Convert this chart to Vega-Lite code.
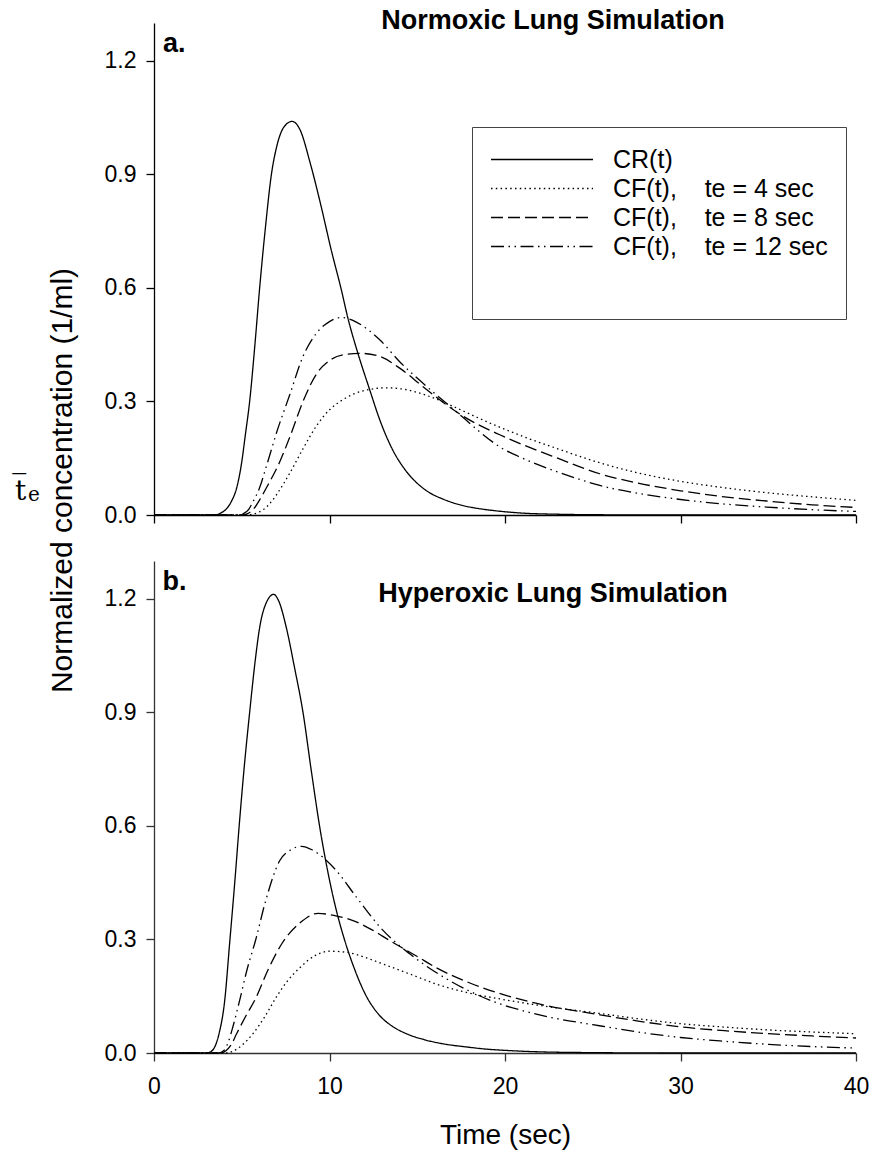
{
  "$schema": "https://vega.github.io/schema/vega-lite/v6.json",
  "background": "white",
  "padding": {"left": 15, "top": 7, "right": 0, "bottom": 0},
  "bounds": "flush",
  "spacing": 46,
  "config": {
    "view": {"stroke": null},
    "font": "Liberation Sans",
    "axis": {
      "grid": false,
      "domainColor": "black", "domainWidth": 1.3,
      "tickColor": "black", "tickWidth": 1.3, "tickSize": 8,
      "labelFont": "Liberation Sans", "labelFontSize": 23, "labelColor": "black",
      "labelFlush": false, "labelOverlap": false,
      "titleFont": "Liberation Sans", "titleColor": "black", "titleFontWeight": "normal"
    }
  },
  "resolve": {"scale": {"strokeDash": "shared"}, "legend": {"strokeDash": "shared"}},
  "datasets": {
    "curves": [
      {"panel":"a","series":"CR","time":0,"conc":0},
      {"panel":"a","series":"CR","time":3.5,"conc":0},
      {"panel":"a","series":"CR","time":3.8,"conc":0.005},
      {"panel":"a","series":"CR","time":4.1,"conc":0.015},
      {"panel":"a","series":"CR","time":4.4,"conc":0.035},
      {"panel":"a","series":"CR","time":4.73,"conc":0.075},
      {"panel":"a","series":"CR","time":5.0,"conc":0.14},
      {"panel":"a","series":"CR","time":5.2,"conc":0.21},
      {"panel":"a","series":"CR","time":5.45,"conc":0.30},
      {"panel":"a","series":"CR","time":5.75,"conc":0.45},
      {"panel":"a","series":"CR","time":6.02,"conc":0.60},
      {"panel":"a","series":"CR","time":6.35,"conc":0.76},
      {"panel":"a","series":"CR","time":6.69,"conc":0.90},
      {"panel":"a","series":"CR","time":7.0,"conc":0.975},
      {"panel":"a","series":"CR","time":7.4,"conc":1.025},
      {"panel":"a","series":"CR","time":7.87,"conc":1.04},
      {"panel":"a","series":"CR","time":8.3,"conc":1.02},
      {"panel":"a","series":"CR","time":8.9,"conc":0.93},
      {"panel":"a","series":"CR","time":9.5,"conc":0.82},
      {"panel":"a","series":"CR","time":10.1,"conc":0.70},
      {"panel":"a","series":"CR","time":10.68,"conc":0.594},
      {"panel":"a","series":"CR","time":11.05,"conc":0.52},
      {"panel":"a","series":"CR","time":11.62,"conc":0.427},
      {"panel":"a","series":"CR","time":12.29,"conc":0.331},
      {"panel":"a","series":"CR","time":12.86,"conc":0.252},
      {"panel":"a","series":"CR","time":13.6,"conc":0.172},
      {"panel":"a","series":"CR","time":14.3,"conc":0.12},
      {"panel":"a","series":"CR","time":14.95,"conc":0.086},
      {"panel":"a","series":"CR","time":15.7,"conc":0.059},
      {"panel":"a","series":"CR","time":16.47,"conc":0.042},
      {"panel":"a","series":"CR","time":17.5,"conc":0.026},
      {"panel":"a","series":"CR","time":18.5,"conc":0.017},
      {"panel":"a","series":"CR","time":19.5,"conc":0.011},
      {"panel":"a","series":"CR","time":21,"conc":0.005},
      {"panel":"a","series":"CR","time":23,"conc":0.002},
      {"panel":"a","series":"CR","time":26,"conc":0.0005},
      {"panel":"a","series":"CR","time":30,"conc":0},
      {"panel":"a","series":"CR","time":40,"conc":0},

      {"panel":"a","series":"te4","time":0,"conc":0},
      {"panel":"a","series":"te4","time":5.3,"conc":0},
      {"panel":"a","series":"te4","time":5.6,"conc":0.002},
      {"panel":"a","series":"te4","time":6.0,"conc":0.008},
      {"panel":"a","series":"te4","time":6.5,"conc":0.025},
      {"panel":"a","series":"te4","time":7.0,"conc":0.055},
      {"panel":"a","series":"te4","time":7.73,"conc":0.11},
      {"panel":"a","series":"te4","time":8.49,"conc":0.175},
      {"panel":"a","series":"te4","time":9.25,"conc":0.235},
      {"panel":"a","series":"te4","time":10.0,"conc":0.278},
      {"panel":"a","series":"te4","time":10.77,"conc":0.305},
      {"panel":"a","series":"te4","time":11.91,"conc":0.328},
      {"panel":"a","series":"te4","time":13.24,"conc":0.336},
      {"panel":"a","series":"te4","time":14.38,"conc":0.331},
      {"panel":"a","series":"te4","time":15.71,"conc":0.313},
      {"panel":"a","series":"te4","time":17.23,"conc":0.283},
      {"panel":"a","series":"te4","time":18.5,"conc":0.256},
      {"panel":"a","series":"te4","time":19.7,"conc":0.232},
      {"panel":"a","series":"te4","time":21,"conc":0.208},
      {"panel":"a","series":"te4","time":23,"conc":0.175},
      {"panel":"a","series":"te4","time":25.4,"conc":0.138},
      {"panel":"a","series":"te4","time":27.5,"conc":0.112},
      {"panel":"a","series":"te4","time":30,"conc":0.089},
      {"panel":"a","series":"te4","time":32.5,"conc":0.072},
      {"panel":"a","series":"te4","time":34.9,"conc":0.059},
      {"panel":"a","series":"te4","time":37.5,"conc":0.048},
      {"panel":"a","series":"te4","time":40,"conc":0.0386},

      {"panel":"a","series":"te8","time":0,"conc":0},
      {"panel":"a","series":"te8","time":5.0,"conc":0},
      {"panel":"a","series":"te8","time":5.3,"conc":0.003},
      {"panel":"a","series":"te8","time":5.6,"conc":0.012},
      {"panel":"a","series":"te8","time":6.02,"conc":0.04},
      {"panel":"a","series":"te8","time":6.5,"conc":0.08},
      {"panel":"a","series":"te8","time":7.16,"conc":0.14},
      {"panel":"a","series":"te8","time":7.73,"conc":0.205},
      {"panel":"a","series":"te8","time":8.49,"conc":0.30},
      {"panel":"a","series":"te8","time":9.25,"conc":0.372},
      {"panel":"a","series":"te8","time":10.0,"conc":0.408},
      {"panel":"a","series":"te8","time":10.9,"conc":0.424},
      {"panel":"a","series":"te8","time":11.82,"conc":0.427},
      {"panel":"a","series":"te8","time":12.86,"conc":0.419},
      {"panel":"a","series":"te8","time":14.0,"conc":0.388},
      {"panel":"a","series":"te8","time":15.33,"conc":0.339},
      {"panel":"a","series":"te8","time":16.66,"conc":0.291},
      {"panel":"a","series":"te8","time":17.8,"conc":0.256},
      {"panel":"a","series":"te8","time":19.7,"conc":0.212},
      {"panel":"a","series":"te8","time":21,"conc":0.186},
      {"panel":"a","series":"te8","time":23,"conc":0.150},
      {"panel":"a","series":"te8","time":25.4,"conc":0.109},
      {"panel":"a","series":"te8","time":27.5,"conc":0.085},
      {"panel":"a","series":"te8","time":30,"conc":0.064},
      {"panel":"a","series":"te8","time":32.5,"conc":0.048},
      {"panel":"a","series":"te8","time":34.9,"conc":0.037},
      {"panel":"a","series":"te8","time":37.5,"conc":0.027},
      {"panel":"a","series":"te8","time":40,"conc":0.020},

      {"panel":"a","series":"te12","time":0,"conc":0},
      {"panel":"a","series":"te12","time":4.8,"conc":0},
      {"panel":"a","series":"te12","time":5.07,"conc":0.003},
      {"panel":"a","series":"te12","time":5.4,"conc":0.015},
      {"panel":"a","series":"te12","time":5.64,"conc":0.035},
      {"panel":"a","series":"te12","time":6.0,"conc":0.07},
      {"panel":"a","series":"te12","time":6.4,"conc":0.128},
      {"panel":"a","series":"te12","time":7.0,"conc":0.22},
      {"panel":"a","series":"te12","time":7.73,"conc":0.317},
      {"panel":"a","series":"te12","time":8.49,"conc":0.419},
      {"panel":"a","series":"te12","time":9.25,"conc":0.48},
      {"panel":"a","series":"te12","time":10.0,"conc":0.511},
      {"panel":"a","series":"te12","time":10.68,"conc":0.522},
      {"panel":"a","series":"te12","time":11.3,"conc":0.515},
      {"panel":"a","series":"te12","time":11.82,"conc":0.502},
      {"panel":"a","series":"te12","time":12.86,"conc":0.463},
      {"panel":"a","series":"te12","time":14.0,"conc":0.405},
      {"panel":"a","series":"te12","time":15.33,"conc":0.348},
      {"panel":"a","series":"te12","time":16.66,"conc":0.295},
      {"panel":"a","series":"te12","time":17.6,"conc":0.258},
      {"panel":"a","series":"te12","time":18.5,"conc":0.222},
      {"panel":"a","series":"te12","time":19.7,"conc":0.180},
      {"panel":"a","series":"te12","time":21,"conc":0.150},
      {"panel":"a","series":"te12","time":22.5,"conc":0.122},
      {"panel":"a","series":"te12","time":24,"conc":0.098},
      {"panel":"a","series":"te12","time":25.4,"conc":0.078},
      {"panel":"a","series":"te12","time":27.5,"conc":0.058},
      {"panel":"a","series":"te12","time":30,"conc":0.041},
      {"panel":"a","series":"te12","time":32.5,"conc":0.029},
      {"panel":"a","series":"te12","time":34.9,"conc":0.021},
      {"panel":"a","series":"te12","time":37.5,"conc":0.014},
      {"panel":"a","series":"te12","time":40,"conc":0.0095},

      {"panel":"b","series":"CR","time":0,"conc":0},
      {"panel":"b","series":"CR","time":3.0,"conc":0},
      {"panel":"b","series":"CR","time":3.25,"conc":0.004},
      {"panel":"b","series":"CR","time":3.46,"conc":0.016},
      {"panel":"b","series":"CR","time":3.7,"conc":0.05},
      {"panel":"b","series":"CR","time":4.03,"conc":0.139},
      {"panel":"b","series":"CR","time":4.31,"conc":0.29},
      {"panel":"b","series":"CR","time":4.6,"conc":0.45},
      {"panel":"b","series":"CR","time":4.85,"conc":0.598},
      {"panel":"b","series":"CR","time":5.15,"conc":0.76},
      {"panel":"b","series":"CR","time":5.45,"conc":0.90},
      {"panel":"b","series":"CR","time":5.75,"conc":1.03},
      {"panel":"b","series":"CR","time":6.02,"conc":1.124},
      {"panel":"b","series":"CR","time":6.4,"conc":1.19},
      {"panel":"b","series":"CR","time":6.82,"conc":1.212},
      {"panel":"b","series":"CR","time":7.1,"conc":1.195},
      {"panel":"b","series":"CR","time":7.54,"conc":1.124},
      {"panel":"b","series":"CR","time":8.0,"conc":1.02},
      {"panel":"b","series":"CR","time":8.49,"conc":0.90},
      {"panel":"b","series":"CR","time":8.95,"conc":0.75},
      {"panel":"b","series":"CR","time":9.44,"conc":0.598},
      {"panel":"b","series":"CR","time":9.9,"conc":0.48},
      {"panel":"b","series":"CR","time":10.4,"conc":0.375},
      {"panel":"b","series":"CR","time":10.85,"conc":0.30},
      {"panel":"b","series":"CR","time":11.4,"conc":0.225},
      {"panel":"b","series":"CR","time":12.1,"conc":0.15},
      {"panel":"b","series":"CR","time":12.8,"conc":0.102},
      {"panel":"b","series":"CR","time":13.6,"conc":0.07},
      {"panel":"b","series":"CR","time":14.38,"conc":0.051},
      {"panel":"b","series":"CR","time":15.5,"conc":0.034},
      {"panel":"b","series":"CR","time":16.5,"conc":0.024},
      {"panel":"b","series":"CR","time":17.8,"conc":0.016},
      {"panel":"b","series":"CR","time":19,"conc":0.010},
      {"panel":"b","series":"CR","time":20,"conc":0.007},
      {"panel":"b","series":"CR","time":22,"conc":0.003},
      {"panel":"b","series":"CR","time":25,"conc":0.001},
      {"panel":"b","series":"CR","time":30,"conc":0},
      {"panel":"b","series":"CR","time":40,"conc":0},

      {"panel":"b","series":"te4","time":0,"conc":0},
      {"panel":"b","series":"te4","time":4.2,"conc":0},
      {"panel":"b","series":"te4","time":4.5,"conc":0.005},
      {"panel":"b","series":"te4","time":5.0,"conc":0.02},
      {"panel":"b","series":"te4","time":5.64,"conc":0.051},
      {"panel":"b","series":"te4","time":6.3,"conc":0.095},
      {"panel":"b","series":"te4","time":7.0,"conc":0.15},
      {"panel":"b","series":"te4","time":7.6,"conc":0.19},
      {"panel":"b","series":"te4","time":8.3,"conc":0.225},
      {"panel":"b","series":"te4","time":9.2,"conc":0.258},
      {"panel":"b","series":"te4","time":10.0,"conc":0.269},
      {"panel":"b","series":"te4","time":11.0,"conc":0.266},
      {"panel":"b","series":"te4","time":12.0,"conc":0.253},
      {"panel":"b","series":"te4","time":13.0,"conc":0.236},
      {"panel":"b","series":"te4","time":14.5,"conc":0.21},
      {"panel":"b","series":"te4","time":16.1,"conc":0.182},
      {"panel":"b","series":"te4","time":18.0,"conc":0.158},
      {"panel":"b","series":"te4","time":19.7,"conc":0.143},
      {"panel":"b","series":"te4","time":22.5,"conc":0.122},
      {"panel":"b","series":"te4","time":25,"conc":0.107},
      {"panel":"b","series":"te4","time":27.5,"conc":0.091},
      {"panel":"b","series":"te4","time":30,"conc":0.0775},
      {"panel":"b","series":"te4","time":32.5,"conc":0.0685},
      {"panel":"b","series":"te4","time":35,"conc":0.061},
      {"panel":"b","series":"te4","time":37.5,"conc":0.0555},
      {"panel":"b","series":"te4","time":40,"conc":0.051},

      {"panel":"b","series":"te8","time":0,"conc":0},
      {"panel":"b","series":"te8","time":3.8,"conc":0},
      {"panel":"b","series":"te8","time":4.1,"conc":0.006},
      {"panel":"b","series":"te8","time":4.4,"conc":0.022},
      {"panel":"b","series":"te8","time":4.7,"conc":0.05},
      {"panel":"b","series":"te8","time":5.2,"conc":0.095},
      {"panel":"b","series":"te8","time":5.8,"conc":0.145},
      {"panel":"b","series":"te8","time":6.5,"conc":0.22},
      {"panel":"b","series":"te8","time":7.3,"conc":0.29},
      {"panel":"b","series":"te8","time":8.3,"conc":0.343},
      {"panel":"b","series":"te8","time":9.35,"conc":0.369},
      {"panel":"b","series":"te8","time":10.3,"conc":0.363},
      {"panel":"b","series":"te8","time":11.34,"conc":0.35},
      {"panel":"b","series":"te8","time":12.4,"conc":0.326},
      {"panel":"b","series":"te8","time":13.4,"conc":0.298},
      {"panel":"b","series":"te8","time":15,"conc":0.255},
      {"panel":"b","series":"te8","time":16.1,"conc":0.225},
      {"panel":"b","series":"te8","time":18,"conc":0.185},
      {"panel":"b","series":"te8","time":20,"conc":0.153},
      {"panel":"b","series":"te8","time":22.5,"conc":0.124},
      {"panel":"b","series":"te8","time":25,"conc":0.104},
      {"panel":"b","series":"te8","time":27.5,"conc":0.085},
      {"panel":"b","series":"te8","time":30,"conc":0.069},
      {"panel":"b","series":"te8","time":32.5,"conc":0.059},
      {"panel":"b","series":"te8","time":35,"conc":0.051},
      {"panel":"b","series":"te8","time":37.5,"conc":0.045},
      {"panel":"b","series":"te8","time":40,"conc":0.0396},

      {"panel":"b","series":"te12","time":0,"conc":0},
      {"panel":"b","series":"te12","time":3.7,"conc":0},
      {"panel":"b","series":"te12","time":3.95,"conc":0.005},
      {"panel":"b","series":"te12","time":4.2,"conc":0.025},
      {"panel":"b","series":"te12","time":4.5,"conc":0.07},
      {"panel":"b","series":"te12","time":4.88,"conc":0.139},
      {"panel":"b","series":"te12","time":5.3,"conc":0.22},
      {"panel":"b","series":"te12","time":5.8,"conc":0.30},
      {"panel":"b","series":"te12","time":6.35,"conc":0.40},
      {"panel":"b","series":"te12","time":7.16,"conc":0.508},
      {"panel":"b","series":"te12","time":7.8,"conc":0.537},
      {"panel":"b","series":"te12","time":8.4,"conc":0.546},
      {"panel":"b","series":"te12","time":9.0,"conc":0.537},
      {"panel":"b","series":"te12","time":9.63,"conc":0.517},
      {"panel":"b","series":"te12","time":10.39,"conc":0.482},
      {"panel":"b","series":"te12","time":11.53,"conc":0.412},
      {"panel":"b","series":"te12","time":13.05,"conc":0.324},
      {"panel":"b","series":"te12","time":14.57,"conc":0.262},
      {"panel":"b","series":"te12","time":16.1,"conc":0.212},
      {"panel":"b","series":"te12","time":18,"conc":0.163},
      {"panel":"b","series":"te12","time":19.7,"conc":0.13},
      {"panel":"b","series":"te12","time":21,"conc":0.112},
      {"panel":"b","series":"te12","time":22.5,"conc":0.095},
      {"panel":"b","series":"te12","time":25,"conc":0.075},
      {"panel":"b","series":"te12","time":27.5,"conc":0.056},
      {"panel":"b","series":"te12","time":30,"conc":0.041},
      {"panel":"b","series":"te12","time":32.5,"conc":0.031},
      {"panel":"b","series":"te12","time":35,"conc":0.023},
      {"panel":"b","series":"te12","time":37.5,"conc":0.017},
      {"panel":"b","series":"te12","time":40,"conc":0.013}
    ]
  },
  "vconcat": [
    {
      "width": 702,
      "height": 492,
      "layer": [
        {
          "data": {"name": "curves"},
          "transform": [{"filter": "datum.panel === 'a'"}],
          "mark": {"type": "line", "interpolate": "monotone", "color": "black", "strokeWidth": 1.3},
          "encoding": {
            "x": {"field": "time", "type": "quantitative", "scale": {"domain": [0, 40], "nice": false},
                  "axis": {"values": [0, 10, 20, 30, 40], "labels": false, "title": null}},
            "y": {"field": "conc", "type": "quantitative", "scale": {"domain": [0, 1.3], "nice": false},
                  "axis": {"values": [0, 0.3, 0.6, 0.9, 1.2], "format": ".1f", "labelPadding": 10,
                           "title": "Normalized concentration (1/ml)", "titleFontSize": 30,
                           "titleAngle": 270, "titleAlign": "center", "titleBaseline": "alphabetic",
                           "titleX": -83, "titleY": 457}},
            "strokeDash": {"field": "series", "type": "nominal",
                           "scale": {"domain": ["CR", "te4", "te8", "te12"],
                                     "range": [[1, 0], [1.5, 3.3], [12, 5], [13, 4.5, 1.5, 4.5, 1.5, 4.5]]},
                           "legend": {"orient": "none", "legendX": 318, "legendY": 104,
                                      "title": " ", "titleOrient": "bottom", "titleFontSize": 30, "titlePadding": 10,
                                      "labelExpr": "datum.value === 'CR' ? 'CR(t)' : datum.value === 'te4' ? 'CF(t),\u00a0\u00a0\u00a0\u00a0te = 4 sec' : datum.value === 'te8' ? 'CF(t),\u00a0\u00a0\u00a0\u00a0te = 8 sec' : 'CF(t),\u00a0\u00a0\u00a0\u00a0te = 12 sec'",
                                      "labelFont": "Liberation Sans", "labelFontSize": 25, "labelColor": "black",
                                      "labelOffset": 19, "labelLimit": 400,
                                      "symbolType": "stroke", "symbolSize": 10404, "symbolStrokeWidth": 1.3,
                                      "symbolStrokeColor": "black",
                                      "strokeColor": "#444", "fillColor": "white", "padding": 18,
                                      "rowPadding": 0, "clipHeight": 29}}
          }
        },
        {
          "data": {"values": [{"label": "a."}]},
          "mark": {"type": "text", "align": "left", "baseline": "alphabetic", "dx": 9, "dy": 29,
                   "font": "Liberation Sans", "fontSize": 27, "fontWeight": "bold", "color": "black"},
          "encoding": {"x": {"datum": 0, "type": "quantitative"}, "y": {"datum": 1.3, "type": "quantitative"},
                       "text": {"field": "label"}}
        },
        {
          "data": {"values": [{"label": "Normoxic Lung Simulation"}]},
          "mark": {"type": "text", "align": "center", "baseline": "alphabetic", "dx": 399, "dy": 6,
                   "font": "Liberation Sans", "fontSize": 27, "fontWeight": "bold", "color": "black"},
          "encoding": {"x": {"datum": 0, "type": "quantitative"}, "y": {"datum": 1.3, "type": "quantitative"},
                       "text": {"field": "label"}}
        },
        {
          "data": {"values": [{"label": "t\u0305"}]},
          "mark": {"type": "text", "align": "left", "baseline": "alphabetic", "dx": -139, "dy": -15,
                   "font": "DejaVu Serif", "fontSize": 28, "color": "black"},
          "encoding": {"x": {"datum": 0, "type": "quantitative"}, "y": {"datum": 0, "type": "quantitative"},
                       "text": {"field": "label"}}
        },
        {
          "data": {"values": [{"label": "e"}]},
          "mark": {"type": "text", "align": "left", "baseline": "alphabetic", "dx": -126, "dy": -14,
                   "font": "DejaVu Serif", "fontSize": 20, "color": "black"},
          "encoding": {"x": {"datum": 0, "type": "quantitative"}, "y": {"datum": 0, "type": "quantitative"},
                       "text": {"field": "label"}}
        }
      ]
    },
    {
      "width": 702,
      "height": 492,
      "layer": [
        {
          "data": {"name": "curves"},
          "transform": [{"filter": "datum.panel === 'b'"}],
          "mark": {"type": "line", "interpolate": "monotone", "color": "black", "strokeWidth": 1.3},
          "encoding": {
            "x": {"field": "time", "type": "quantitative", "scale": {"domain": [0, 40], "nice": false},
                  "axis": {"values": [0, 10, 20, 30, 40], "labelPadding": 14, "title": "Time (sec)",
                           "titleFontSize": 28, "titleBaseline": "alphabetic", "titleY": 90.6,
                           "domainColor": "#333", "tickColor": "#333"}},
            "y": {"field": "conc", "type": "quantitative", "scale": {"domain": [0, 1.3], "nice": false},
                  "axis": {"values": [0, 0.3, 0.6, 0.9, 1.2], "format": ".1f", "labelPadding": 10, "title": null,
                           "domainColor": "#333", "tickColor": "#333"}},
            "strokeDash": {"field": "series", "type": "nominal",
                           "scale": {"domain": ["CR", "te4", "te8", "te12"],
                                     "range": [[1, 0], [1.5, 3.3], [12, 5], [13, 4.5, 1.5, 4.5, 1.5, 4.5]]}}
          }
        },
        {
          "data": {"values": [{"label": "b."}]},
          "mark": {"type": "text", "align": "left", "baseline": "alphabetic", "dx": 8.5, "dy": 29,
                   "font": "Liberation Sans", "fontSize": 27, "fontWeight": "bold", "color": "black"},
          "encoding": {"x": {"datum": 0, "type": "quantitative"}, "y": {"datum": 1.3, "type": "quantitative"},
                       "text": {"field": "label"}}
        },
        {
          "data": {"values": [{"label": "Hyperoxic Lung Simulation"}]},
          "mark": {"type": "text", "align": "center", "baseline": "alphabetic", "dx": 399, "dy": 40.7,
                   "font": "Liberation Sans", "fontSize": 27, "fontWeight": "bold", "color": "black"},
          "encoding": {"x": {"datum": 0, "type": "quantitative"}, "y": {"datum": 1.3, "type": "quantitative"},
                       "text": {"field": "label"}}
        }
      ]
    }
  ]
}
